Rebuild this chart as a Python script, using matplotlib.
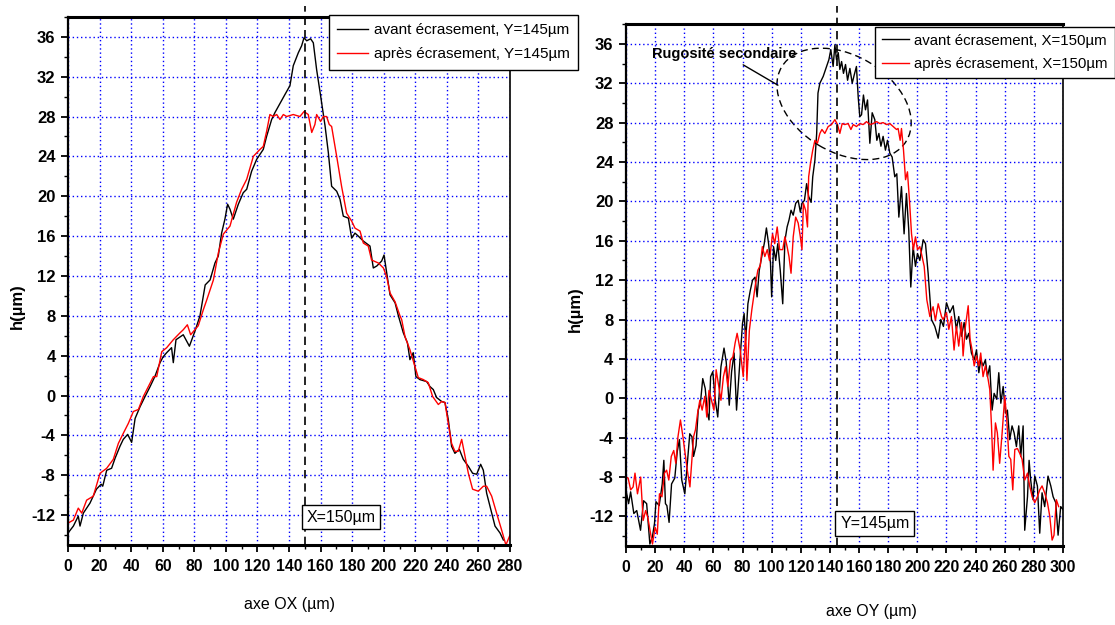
import numpy as np
import matplotlib
matplotlib.use("Agg")
import matplotlib.pyplot as plt
import matplotlib.transforms as mtransforms
from matplotlib.patches import Ellipse
from matplotlib.ticker import MultipleLocator

plt.rcParams['font.family'] = ['Liberation Sans', 'DejaVu Sans']
plt.rcParams['axes.unicode_minus'] = False

# ---- left profile (along OX, Y=145um) ----
ox_avant_x = [0, 3.4, 6.5, 7.6, 9.7, 13.9, 18, 21, 22, 24.5, 27.6, 29.8, 32.9, 35, 37.8, 40.3, 42.5,
              45.7, 48.8, 52, 55, 58.3, 60.3, 62.5, 65.6, 66.7, 68.4, 73, 76.9, 80.5, 83.6, 86.9, 90,
              93.1, 95.2, 97.3, 99.4, 101.1, 102.6, 104.7, 107.9, 111, 113.2, 116.3, 119.5, 123.7,
              125.8, 129, 131.1, 133.2, 137.4, 140.6, 142.7, 145.9, 148, 149.5, 151.2, 153.7, 155.4,
              157.5, 160, 162.8, 164.9, 167, 170.2, 172.3, 174.4, 177.6, 179.7, 181.8, 183.9, 187.1,
              191.3, 193.4, 195.6, 198.7, 200.2, 201.9, 204, 207.2, 209.3, 212.4, 215, 216.6, 218.7,
              220.4, 222.9, 227.2, 229.3, 231.4, 233.5, 236.7, 238.8, 240.9, 243, 245.1, 247.9, 250.4,
              253.6, 256.3, 258.9, 261.4, 263.1, 265.2, 267.3, 270.5, 273.7, 275.8]
ox_avant_y = [-13.8, -13.1, -12.1, -13.1, -11.8, -10.8, -9.4, -8.9, -9.1, -7.5, -7.3, -6.3, -5.1, -4.4,
              -3.9, -4.7, -2.3, -1.1, -0.1, 0.9, 1.9, 3.3, 3.9, 4.3, 4.8, 3.3, 5.6, 6.1, 4.95, 6.5, 8.0,
              11.1, 11.6, 13.3, 14.0, 16.3, 17.7, 19.2, 18.7, 17.7, 19.2, 20.35, 20.7, 22.5, 23.7, 24.7,
              26.0, 27.7, 28.4, 29.0, 30.2, 31.1, 33.1, 34.4, 35.1, 35.9, 35.6, 35.8, 35.4, 32.7, 30.1,
              27.1, 24.4, 21.0, 20.5, 19.7, 18.0, 17.8, 15.8, 16.3, 16.0, 15.5, 15.0, 12.8, 13.0, 13.5,
              14.1, 12.3, 10.1, 9.3, 8.0, 6.3, 5.3, 3.6, 4.3, 1.9, 1.6, 1.4, 0.9, 0.6, -0.2, -0.6, -0.7,
              -2.4, -5.1, -5.8, -5.4, -6.4, -7.1, -7.8, -7.9, -6.9, -7.5, -9.8, -11.1, -13.1, -13.8, -14.5]

ox_apres_x = [0, 3.4, 6.5, 8.7, 11.8, 16, 20.3, 24.5, 28.7, 31.9, 35, 38.2, 41.4, 44.6, 47.7, 50.9,
              54.1, 56.2, 59.4, 62.5, 66.7, 71, 73, 75.6, 77.7, 79.8, 82.5, 85.7, 87.9, 92.1, 95.2,
              98.4, 102.6, 106.8, 110, 113.2, 117.4, 121.6, 123.7, 125.8, 127.9, 130, 132.2, 134.3,
              136.4, 138.5, 142.7, 146.9, 149.5, 152.2, 154.4, 156.4, 157.5, 160, 161.7, 163.8, 165.5,
              167, 170.2, 173.3, 176.5, 179.7, 181.8, 185, 187.1, 190.2, 192.3, 196.6, 199.8, 201.9,
              204, 207.2, 210.3, 211.4, 213.5, 216.6, 219.8, 221.9, 225.1, 228.2, 231, 234.6, 236.7,
              238.8, 240.9, 243, 245.1, 247.2, 249.4, 251.5, 253.6, 256.3, 259.9, 263.1, 265.2, 268.4,
              271.5, 274.7, 277.4, 280]
ox_apres_y = [-12.8, -12.5, -11.3, -11.8, -10.5, -10.1, -7.8, -7.3, -6.4, -4.8, -3.8, -2.8, -1.6, -1.4,
              -0.1, 0.9, 1.9, 1.9, 4.4, 4.8, 5.6, 6.3, 6.6, 7.1, 6.1, 6.5, 7.0, 8.6, 9.6, 11.6, 14.3,
              16.2, 17.0, 19.4, 20.7, 21.7, 24.0, 24.7, 25.0, 26.5, 28.2, 28.0, 28.2, 27.7, 28.2, 28.0,
              28.2, 28.0, 28.5, 28.2, 26.4, 27.2, 28.2, 27.5, 28.0, 28.0, 27.2, 27.0, 24.0, 21.0, 18.3,
              17.5, 16.8, 16.5, 15.3, 15.0, 13.6, 13.3, 12.8, 11.9, 10.3, 9.4, 8.0, 7.6, 5.9, 4.6, 2.9,
              1.8, 1.6, 1.3, -0.1, -0.9, -0.6, -0.7, -2.8, -4.8, -5.6, -5.6, -4.4, -6.1, -7.8, -9.4,
              -9.6, -9.1, -9.1, -10.1, -11.8, -13.5, -15.0, -14.0]

# ---- right profile (along OY, X=150um) ----
oy_avant_x = [0, 1.8, 3.2, 5.4, 7.4, 10, 12.1, 14.2, 16.4, 18.1, 19.6, 20.6, 22.8, 24.9, 26, 27.1,
              28.1, 29.6, 31.3, 33.5, 35.2, 36.7, 38.3, 40.4, 42.1, 43.8, 45.3, 46.4, 48.1, 49.6, 51.1,
              52.7, 54.4, 55.9, 57, 58.1, 59.6, 61.3, 63, 65.2, 67.3, 68.8, 70.9, 72.5, 74.2, 75.9,
              78.4, 80, 81.1, 82.2, 83.7, 85.4, 86.9, 88.6, 90, 91.5, 93.2, 94.9, 96.4, 97.9, 99.2,
              100, 101.3, 102.8, 104.2, 105.9, 107.6, 109.1, 110.6, 111.9, 113.3, 114.8, 116.5, 118.2,
              119.7, 120.8, 122.5, 124, 125.4, 127.1, 128.2, 129.7, 130.9, 131.8, 133.1, 135.4, 137.7,
              139.3, 140.6, 142.2, 143.4, 144.5, 145.7, 146.8, 148, 149.3, 150.7, 152.1, 153.7, 155.3,
              156.6, 158.2, 159.4, 160.5, 161.7, 163, 164.4, 165.8, 167.4, 169, 170.8, 172.2, 173.6,
              175, 176.5, 178.1, 179.5, 181.1, 182.7, 184.5, 185.9, 187.3, 189.1, 190.9, 192.5, 194.1,
              195.5, 197.1, 198.7, 200.1, 201.7, 204, 205.6, 207.4, 209.7, 212, 214.3, 216.1, 217.9,
              220, 222.3, 224.6, 226.8, 228.4, 230.3, 232.1, 233.7, 235.3, 237.1, 239, 240.6, 242.2,
              243.5, 245.1, 246.7, 248.1, 249.7, 251.3, 252.7, 254.5, 255.9, 257.3, 258.9, 260.5,
              261.8, 263.4, 265, 266.4, 268, 269.6, 271, 272.6, 273.7, 275.6, 276.7, 277.8, 279.4,
              280.6, 282.4, 284, 285.6, 287.4, 289.7, 291.6, 293.2, 295, 296.6, 298.4, 300]
oy_avant_y = [-9.3, -10.7, -9.5, -11.7, -11.4, -13.4, -10.4, -10.7, -14.8, -14.1, -12.7, -10.5, -10.9,
              -8.7, -6.3, -10.7, -10.9, -12.6, -8.7, -8.1, -5.4, -4.2, -8.3, -9.7, -6.6, -3.6, -3.9,
              -5.9, -4.8, -1.2, -0.5, 2.0, 1.0, -1.5, -2.2, 2.2, 2.7, -0.2, -1.9, 3.2, 5.1, 3.7, -0.7,
              2.7, 4.6, -1.2, 4.2, 7.6, 8.6, 5.9, 9.6, 11.0, 12.0, 12.3, 10.3, 13.0, 14.4, 15.7, 17.3,
              15.7, 13.7, 10.3, 15.4, 14.0, 15.7, 13.0, 9.6, 16.0, 17.4, 18.1, 19.1, 18.6, 19.8, 20.1,
              18.9, 19.8, 20.1, 21.8, 20.5, 19.9, 22.5, 24.2, 26.9, 31.0, 32.0, 32.7, 33.7, 34.4, 35.4,
              33.7, 35.9, 34.4, 35.1, 33.4, 34.2, 33.0, 33.9, 32.3, 33.5, 32.0, 32.8, 33.7, 30.6, 28.6,
              28.8, 30.8, 29.3, 30.3, 25.9, 29.0, 28.3, 26.2, 26.9, 25.6, 26.6, 25.2, 26.2, 24.9, 24.5,
              22.5, 22.8, 18.4, 21.5, 16.7, 20.8, 17.1, 11.3, 15.4, 13.4, 14.7, 14.0, 16.1, 15.7, 12.7,
              8.0, 7.3, 6.1, 8.0, 7.3, 9.7, 8.7, 9.4, 7.0, 8.3, 6.3, 7.7, 6.0, 6.6, 4.6, 3.9, 4.9, 2.6,
              3.9, 3.3, 3.9, 2.2, 3.3, -1.2, 0.5, -0.1, 2.6, -0.5, 1.2, -1.5, -1.2, -4.2, -2.8, -3.5,
              -4.9, -2.8, -5.9, -2.8, -13.4, -10.0, -6.3, -8.3, -10.3, -7.9, -8.9, -13.7, -9.6, -11.0,
              -7.9, -8.9, -10.0, -10.6, -13.9, -11.0, -11.3]

oy_apres_x = [0, 1.5, 3.2, 4.9, 6.2, 7.9, 10.1, 11.8, 13.5, 15, 16.5, 18.2, 20, 21.5, 23, 24.7, 26.4,
              27.9, 29.4, 31.1, 32.8, 34.2, 35.7, 37.4, 39.1, 40.9, 42.1, 43.9, 45.1, 46.4, 47.7, 49.2,
              50.7, 52.3, 54.1, 55.5, 57, 58.7, 60.4, 61.9, 63.4, 65.2, 66.9, 68.4, 69.9, 71.7, 73.4,
              74.9, 76.3, 78.4, 80.5, 82.2, 83, 84.7, 86.4, 87.9, 89, 90.5, 92.2, 93.6, 95.3, 97, 98.5,
              100.6, 102.1, 103.8, 105.5, 107.6, 109.1, 110.6, 111.9, 113.3, 114.8, 116.5, 118.2,
              119.7, 120.8, 121.8, 123.3, 124.6, 125.4, 126.7, 128.2, 129.7, 131.4, 133.1, 134.5, 136.5,
              138.8, 141.1, 143.4, 145.2, 146.8, 148.4, 150.2, 152.5, 154.4, 156, 158.2, 160.5, 162.8,
              165.1, 167.4, 169.7, 172, 174.3, 176.5, 178.8, 181.1, 183.4, 185.7, 186.8, 188.2, 189.1,
              190.5, 191.9, 193.2, 194.6, 196, 197.3, 198.7, 200.1, 201.7, 202.8, 204.7, 206.5, 208.6,
              210.8, 212.4, 214.3, 216.6, 217.7, 220, 221.6, 223.4, 225.2, 226.8, 228.4, 230.3, 231.4,
              233, 234.9, 236.2, 237.6, 239, 240.6, 242.2, 243.5, 245.1, 246.7, 248.6, 249.7, 250.9,
              252, 253.6, 254.9, 256.5, 258.2, 260, 261.4, 262.8, 264.1, 265.5, 266.9, 268.7, 270.3,
              271.9, 273.7, 275.6, 277.1, 278.8, 280.6, 282.4, 284, 285.6, 287.4, 289.3, 290.9, 292.5,
              293.8, 295.4, 297]
oy_apres_y = [-8.0, -8.1, -9.3, -9.0, -7.6, -9.7, -8.0, -12.4, -11.4, -12.1, -13.4, -14.8, -13.1, -13.8,
              -9.7, -10.0, -7.6, -7.3, -8.3, -5.9, -5.3, -6.6, -3.9, -2.2, -3.9, -5.9, -7.3, -9.0, -6.6,
              -3.9, -3.2, -1.5, -0.2, -1.2, 0.2, -1.9, 0.8, -0.2, -1.2, 2.9, 1.5, -0.2, 2.2, 3.2, 1.2,
              3.9, 4.2, 5.6, 6.6, 4.9, 2.2, 6.9, 1.8, 6.9, 9.0, 10.6, 11.7, 13.0, 13.5, 15.4, 14.4, 15.1,
              14.0, 16.7, 15.7, 17.4, 15.1, 15.1, 16.4, 15.4, 14.4, 12.7, 16.4, 18.4, 17.8, 16.4, 15.1,
              19.8, 19.1, 17.4, 22.5, 23.9, 25.2, 26.2, 25.9, 26.9, 27.3, 26.9, 27.6, 27.8, 28.3, 27.8,
              26.9, 27.9, 27.8, 27.9, 27.3, 27.8, 27.6, 27.9, 27.8, 28.1, 27.8, 27.9, 28.1, 27.9, 28.0,
              27.8, 27.9, 27.6, 27.3, 27.4, 26.2, 27.4, 25.2, 22.2, 23.0, 20.1, 16.7, 15.1, 16.4, 15.1,
              15.4, 14.7, 13.4, 10.0, 8.3, 9.3, 7.9, 9.6, 8.3, 8.0, 8.7, 7.0, 8.3, 4.9, 7.3, 5.3, 7.7,
              4.3, 7.3, 9.4, 6.0, 4.9, 3.3, 4.3, 3.3, 4.6, 2.2, 3.3, 1.9, 0.9, -2.8, -7.3, -2.5, -3.5,
              -6.6, -3.5, 0.2, -2.2, -5.9, -6.2, -9.3, -5.2, -5.1, -5.6, -6.2, -8.3, -7.6, -8.9, -10.0,
              -10.6, -10.0, -9.3, -8.9, -9.6, -10.6, -12.0, -14.4, -13.9, -10.3, -11.0]

legend_left = ['avant écrasement, Y=145µm', 'après écrasement, Y=145µm']
legend_right = ['avant écrasement, X=150µm', 'après écrasement, X=150µm']
blue = '#0000ff'

fig = plt.figure(figsize=(11.15, 6.25), dpi=100)
ax1 = fig.add_axes([0.061, 0.128, 0.3964, 0.845])
ax2 = fig.add_axes([0.5614, 0.1264, 0.392, 0.835])


def style(ax, xmax):
    ax.set_xlim(0, xmax)
    ax.set_ylim(-15, 38)
    ax.xaxis.set_major_locator(MultipleLocator(20))
    ax.xaxis.set_minor_locator(MultipleLocator(10))
    ax.yaxis.set_minor_locator(MultipleLocator(2))
    ax.set_yticks(np.arange(-12, 37, 4))
    ax.grid(True, which='major', color=blue, linestyle=(0, (1, 2)), linewidth=1.0)
    ax.tick_params(which='major', direction='out', length=5, width=1.3, pad=4)
    ax.tick_params(which='minor', direction='out', length=3, width=1.0)
    ax.tick_params(axis='x', labelsize=11.3, pad=5)
    ax.tick_params(axis='y', labelsize=12)
    for lab in ax.get_xticklabels() + ax.get_yticklabels():
        lab.set_fontweight('bold')
    ax.spines['bottom'].set_linewidth(2.2)
    ax.spines['top'].set_linewidth(2.2)
    ax.spines['left'].set_linewidth(1.6)
    ax.spines['right'].set_linewidth(1.2)


style(ax1, 280)
style(ax2, 300)

ax1.plot(ox_avant_x, ox_avant_y, color='black', lw=1.0, label=legend_left[0])
ax1.plot(ox_apres_x, ox_apres_y, color='red', lw=1.0, label=legend_left[1])
ax2.plot(oy_avant_x, oy_avant_y, color='black', lw=1.0, label=legend_right[0])
ax2.plot(oy_apres_x, oy_apres_y, color='red', lw=1.0, label=legend_right[1])

# section markers
ax1.plot([150, 150], [-15, 39.1], color='black', lw=1.2, ls=(0, (5, 3)), clip_on=False)
ax2.plot([145, 145], [-15, 39.8], color='black', lw=1.2, ls=(0, (5, 3)), clip_on=False)

ax1.text(151.0, -12.2, 'X=150µm', fontsize=11.5, va='center', ha='left',
         bbox=dict(boxstyle='square,pad=0.3', fc='white', ec='black', lw=1.0))
ax2.text(147.0, -12.7, 'Y=145µm', fontsize=11.5, va='center', ha='left',
         bbox=dict(boxstyle='square,pad=0.3', fc='white', ec='black', lw=1.0))

# secondary roughness annotation
ax2.annotate('Rugosité secondaire', xy=(104.3, 31.8), xytext=(17.8, 35.0),
             fontsize=10.5, fontweight='bold', va='center', ha='left',
             arrowprops=dict(arrowstyle='-', color='black', lw=1.0, shrinkA=2, shrinkB=0))
ell_tr = fig.dpi_scale_trans + mtransforms.ScaledTranslation(149.7, 29.9, ax2.transData)
ax2.add_patch(Ellipse((0, 0), width=1.45, height=0.97, angle=-30.5, transform=ell_tr,
                      fill=False, ec='black', lw=1.0, ls=(0, (5, 3))))

leg1 = ax1.legend(loc='upper left', bbox_to_anchor=(0.295, 0.976), bbox_transform=fig.transFigure,
                  borderaxespad=0, fancybox=False, framealpha=1, edgecolor='black',
                  fontsize=11, handlelength=2.0, labelspacing=0.65, borderpad=0.55,
                  handletextpad=0.4)
leg2 = ax2.legend(loc='upper left', bbox_to_anchor=(0.785, 0.957), bbox_transform=fig.transFigure,
                  borderaxespad=0, fancybox=False, framealpha=1, edgecolor='black',
                  fontsize=10.8, handlelength=1.8, labelspacing=0.65, borderpad=0.45,
                  handletextpad=0.35)
for leg in (leg1, leg2):
    leg.get_frame().set_linewidth(1.0)
    leg.set_zorder(5)

fig.text(0.016, 0.51, 'h(µm)', rotation=90, fontsize=12, fontweight='bold',
         ha='center', va='center')
fig.text(0.516, 0.505, 'h(µm)', rotation=90, fontsize=12, fontweight='bold',
         ha='center', va='center')
fig.text(0.26, 0.032, 'axe OX (µm)', fontsize=11.5, ha='center', va='center')
fig.text(0.782, 0.021, 'axe OY (µm)', fontsize=11.5, ha='center', va='center')

fig.savefig('out.png', dpi=100)
